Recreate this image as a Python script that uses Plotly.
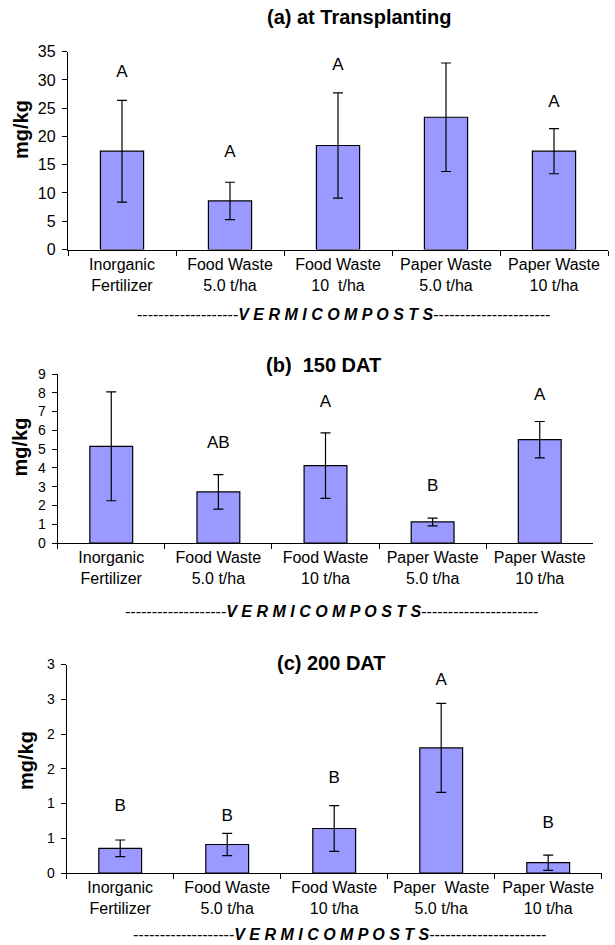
import plotly.graph_objects as go

# ---------------- data ----------------
categories_a = ["Inorganic<br>Fertilizer", "Food Waste<br>5.0 t/ha", "Food Waste<br>10  t/ha",
                "Paper Waste<br>5.0 t/ha", "Paper Waste<br>10 t/ha"]
categories_b = ["Inorganic<br>Fertilizer", "Food Waste<br>5.0 t/ha", "Food Waste<br>10 t/ha",
                "Paper Waste<br>5.0 t/ha", "Paper Waste<br>10 t/ha"]
categories_c = ["Inorganic<br>Fertilizer", "Food Waste<br>5.0 t/ha", "Food Waste<br>10 t/ha",
                "Paper  Waste<br>5.0 t/ha", "Paper Waste<br>10 t/ha"]

values_a = [17.4, 8.6, 18.4, 23.4, 17.4]
errors_a = [9.0, 3.3, 9.3, 9.6, 4.0]
letters_a = ["A", "A", "A", "A", "A"]
letter_pos_a = [31.2, 17.1, 32.5, 36.6, 26.0]

values_b = [5.15, 2.72, 4.12, 1.12, 5.5]
errors_b = [2.9, 0.92, 1.74, 0.21, 0.97]
letters_b = ["A", "AB", "A", "B", "A"]
letter_pos_b = [9.48, 5.29, 7.47, 3.0, 7.83]

values_c = [0.355, 0.41, 0.64, 1.80, 0.148]
errors_c = [0.12, 0.16, 0.33, 0.64, 0.11]
letters_c = ["B", "B", "B", "A", "B"]
letter_pos_c = [0.954, 0.81, 1.35, 2.76, 0.705]

titles = ["(a) at Transplanting", "(b)  150 DAT", "(c) 200 DAT"]
y_title = "mg/kg"
group_label = "-------------------<b><i>V E R M I C O M P O S T S</i></b>----------------------"

y_ranges = [[0, 35], [0, 9], [0, 3]]
y_tickvals = [[0, 5, 10, 15, 20, 25, 30, 35],
              [0, 1, 2, 3, 4, 5, 6, 7, 8, 9],
              [0, 0.5, 1, 1.5, 2, 2.5, 3]]
y_ticktext = [["0", "5", "10", "15", "20", "25", "30", "35"],
              ["0", "1", "2", "3", "4", "5", "6", "7", "8", "9"],
              ["0", "1", "1", "2", "2", "3", "3"]]

# ---------------- layout geometry (pixels) ----------------
W, H = 615, 945
FONT = "Liberation Sans, Arial, sans-serif"
BAR = "#9999FF"

def px(x):
    return x / W

def py(y):
    return 1 - y / H

# plot areas: (left, right, bottom, top) in pixels
areas = [(68, 608, 249.5, 51.7), (57.7, 593.3, 543, 374), (66.7, 601.7, 873, 664.5)]
title_pos = [(358.5, 17), (323.6, 365), (331.7, 663)]
ytitle_pos = [(20.5, 129.5), (20, 447.5), (26, 761)]
group_pos = [(343, 315), (331, 611.7), (339, 934.5)]
tick_sizes = [16, 14, 14]

panels = [
    (categories_a, values_a, errors_a, letters_a, letter_pos_a),
    (categories_b, values_b, errors_b, letters_b, letter_pos_b),
    (categories_c, values_c, errors_c, letters_c, letter_pos_c),
]

fig = go.Figure()
annotations = []
layout = dict(
    width=W, height=H, autosize=False,
    margin=dict(l=0, r=0, t=0, b=0, autoexpand=False),
    paper_bgcolor="white", plot_bgcolor="white",
    showlegend=False,
    font=dict(family=FONT, color="black"),
)

for i, (cats, vals, errs, lets, lpos) in enumerate(panels):
    n = i + 1
    xa = "x" if n == 1 else f"x{n}"
    ya = "y" if n == 1 else f"y{n}"
    fig.add_trace(go.Bar(
        x=cats, y=vals, xaxis=xa, yaxis=ya, width=0.4,
        marker=dict(color=BAR, line=dict(color="black", width=1.2)),
        error_y=dict(type="data", array=errs, color="black", thickness=1.2, width=5),
        hoverinfo="skip",
    ))
    # significance letters
    fig.add_trace(go.Scatter(
        x=cats, y=lpos, xaxis=xa, yaxis=ya, mode="text", text=lets,
        textposition="middle center", cliponaxis=False,
        textfont=dict(family=FONT, size=17, color="black"),
        hoverinfo="skip",
    ))
    l, r, b, t = areas[i]
    layout["xaxis" if n == 1 else f"xaxis{n}"] = dict(
        domain=[px(l), px(r)], anchor=ya, type="category",
        categoryorder="array", categoryarray=cats,
        range=[-0.5, 4.5], tickangle=0, automargin=False,
        showline=True, linecolor="black", linewidth=1.3,
        ticks="outside", tickson="boundaries", ticklen=5, tickcolor="black", tickwidth=1.2,
        tickfont=dict(family=FONT, size=16, color="black"),
        showgrid=False, zeroline=False, fixedrange=True,
    )
    layout["yaxis" if n == 1 else f"yaxis{n}"] = dict(
        domain=[py(b), py(t)], anchor=xa, automargin=False,
        range=y_ranges[i], tickmode="array",
        tickvals=y_tickvals[i], ticktext=y_ticktext[i],
        showline=True, linecolor="black", linewidth=1.3,
        ticks="outside", ticklen=5, tickcolor="black", tickwidth=1.2,
        tickfont=dict(family=FONT, size=tick_sizes[i], color="black"),
        ticklabelstandoff=3,
        showgrid=False, zeroline=False, fixedrange=True,
    )
    # title
    tx, ty = title_pos[i]
    annotations.append(dict(
        x=px(tx), y=py(ty), xref="paper", yref="paper", text=f"<b>{titles[i]}</b>",
        showarrow=False, font=dict(family=FONT, size=20, color="black"),
        xanchor="center", yanchor="middle",
    ))
    # y title
    yx, yy = ytitle_pos[i]
    annotations.append(dict(
        x=px(yx), y=py(yy), xref="paper", yref="paper", text=f"<b>{y_title}</b>",
        showarrow=False, textangle=-90, font=dict(family=FONT, size=20, color="black"),
        xanchor="center", yanchor="middle",
    ))
    # group label
    gx, gy = group_pos[i]
    annotations.append(dict(
        x=px(gx), y=py(gy), xref="paper", yref="paper", text=group_label,
        showarrow=False, font=dict(family=FONT, size=16, color="black"),
        xanchor="center", yanchor="middle",
    ))

layout["annotations"] = annotations
fig.update_layout(**layout)
fig.write_html("out.html")
